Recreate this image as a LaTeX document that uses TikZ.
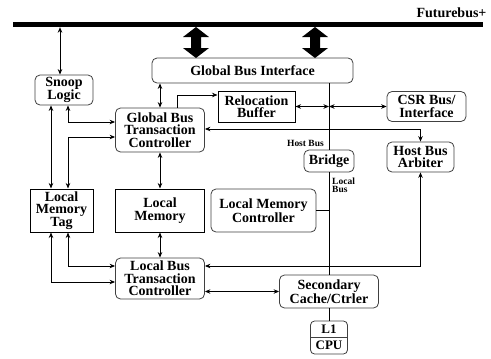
\documentclass[tikz,border=0pt]{standalone}
\usepackage{fontspec}
\setmainfont{Liberation Serif}
\usepackage{tikz}
\usetikzlibrary{arrows.meta}
\usetikzlibrary{shapes.multipart}

\begin{document}
\begin{tikzpicture}[x=1pt,y=-1pt,
  conn/.style={line width=0.8pt, >={Stealth[length=5.5pt,width=4.5pt]}},
  font=\fontsize{14pt}{12.5pt}\selectfont\bfseries]
  \tikzstyle{rbox}=[draw=black!75, line width=0.8pt, rounded corners=5pt, align=center, inner sep=1pt, fill=white]
  \tikzstyle{sbox}=[draw, line width=1pt, align=center, inner sep=1pt, fill=white]
  \tikzstyle{lbl}=[font=\fontsize{9.5pt}{8pt}\selectfont\bfseries, inner sep=0pt, align=left]
  \useasboundingbox (0,0) rectangle (491,359);

  % system bus
  \node[fill=black, minimum width=470, minimum height=5, inner sep=0pt] (fbus) at (248,24.5) {};
  \node[anchor=base east] (fblabel) at (490,17) {Futurebus+};

  % vertical tracks
  \coordinate (xa) at (51,0);
  \coordinate (xb) at (68,0);
  \coordinate (xs) at (60,0);
  \coordinate (xr) at (177,0);
  \coordinate (xh) at (329,0);

  % boxes
  \node[rbox, minimum width=201, minimum height=25] (gbi) at (252.5,70.5) {Global Bus Interface};
  \node[rbox, minimum width=58, minimum height=30] (snoop) at (64,90) {Snoop\\Logic};
  \node[rbox, minimum width=89, minimum height=44] (gbtc) at (160,130) {Global Bus\\Transaction\\Controller};
  \node[sbox, minimum width=77, minimum height=31] (reloc) at (256.5,106.5) {Relocation\\Buffer};
  \node[rbox, minimum width=79, minimum height=30] (csr) at (426.5,106.5) {CSR Bus/\\Interface};
  \node[rbox, minimum width=67, minimum height=30] (hba) at (420.5,157) {Host Bus\\Arbiter};
  \node[rbox, minimum width=50, minimum height=22] (bridge) at (329,161) {Bridge};
  \node[rbox, minimum width=105, minimum height=43] (lmc) at (263.5,210.5) {Local Memory\\Controller};
  \node[sbox, minimum width=63, minimum height=43] (lmt) at (61.5,210.5) {Local\\Memory\\Tag};
  \node[sbox, minimum width=89, minimum height=43] (lm) at (160,210.5) {Local\\Memory};
  \node[rbox, minimum width=89, minimum height=41] (lbtc) at (160,278.5) {Local Bus\\Transaction\\Controller};
  \node[rbox, minimum width=99, minimum height=33] (sc) at (329,291.5) {Secondary\\Cache/Ctrler};
  \node[draw=black!75, line width=0.8pt, rounded corners=4pt, fill=white,
    rectangle split, rectangle split parts=2, minimum width=37,
    inner xsep=2pt, inner ysep=3.5pt, font=\fontsize{13pt}{12pt}\selectfont\bfseries] (cpu) at (329,337.5) {L1\nodepart{two}CPU};

  \node[lbl, anchor=base east] (hostbus) at (324,146) {Host Bus};
  \node[lbl, anchor=north west] (localbus) at (332,178) {Local\\Bus};

  % wide bus arrows
  \foreach \x in {196,315}
    \fill (\x,27) -- ++(13,10) -- ++(-8,0) -- ++(0,11) -- ++(8,0) -- (\x,58)
      -- ++(-13,-10) -- ++(8,0) -- ++(0,-11) -- ++(-8,0) -- cycle;

  % connectors
  \draw[conn,<->] (fbus.south -| xs) -- (snoop.north -| xs);
  \draw[conn,<->] (gbi.south -| gbtc.north) -- (gbtc.north);
  \draw[conn,->] (gbtc.north -| xr) |- ([yshift=11.5pt]reloc.west);
  \draw[conn,<->] (reloc.east) -- (reloc.east -| xh);
  \draw[conn,<->] (csr.west -| xh) -- (csr.west);
  \draw[conn] (gbi.south -| xh) -- (bridge.north);
  \draw[conn] (bridge.south) -- (sc.north);
  \draw[conn] (lmc.east) -- (lmc.east -| xh);
  \draw[conn] (sc.south) -- (cpu.north);
  \draw[conn,<->] ([yshift=1pt]gbtc.east) -| (hba.north);
  \draw[conn,<->] (snoop.south -| xa) -- (lmt.north -| xa);
  \draw[conn,<->] (snoop.south -| xb) |- ([yshift=8pt]gbtc.west);
  \draw[conn,<->] ([yshift=-7pt]gbtc.west) -| (lmt.north -| xb);
  \draw[conn,<->] (lmt.south -| xb) |- ([yshift=12.5pt]lbtc.west);
  \draw[conn,<->] (lmt.south -| xa) |- ([yshift=-3.5pt]lbtc.west);
  \draw[conn,<->] (gbtc.south) -- (lm.north);
  \draw[conn,<->] (lm.south) -- (lbtc.north);
  \draw[conn,<->] ([yshift=12.5pt]lbtc.east) -| (hba.south);
  \draw[conn,<->] (lbtc.east |- sc.west) -- (sc.west);
\end{tikzpicture}
\end{document}
